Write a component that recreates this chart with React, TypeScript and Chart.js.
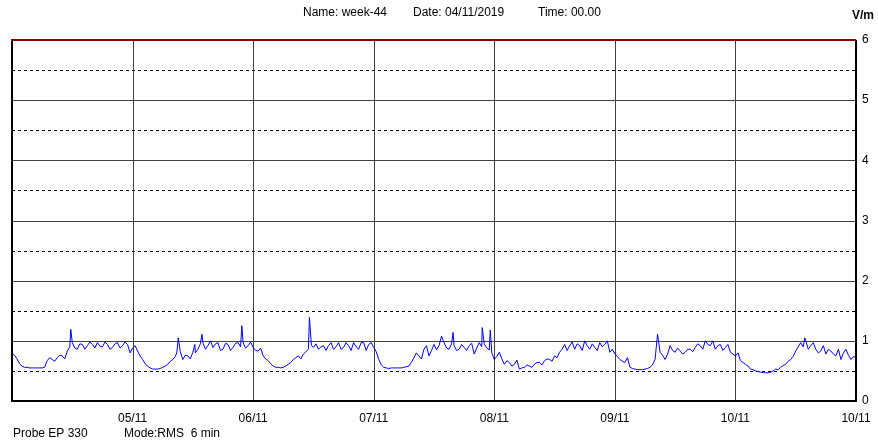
import React, { useEffect, useRef } from 'react';
import { Chart, registerables } from 'chart.js';

Chart.register(...registerables);

// Time since 04/11/2019 00:00 in hours
const hours = [
  0, 1, 2, 3, 4, 5, 6, 7, 8, 9, 10, 11, 11.7, 12, 13, 14, 15, 16, 17, 18, 19, 20, 21, 22, 23,
  24, 25, 26, 27, 28, 29, 30, 31, 32, 32.8, 33.1, 34, 35, 36, 36.4, 37, 37.8, 38, 39, 40, 41, 42, 43, 44, 45, 45.75, 46, 47,
  48, 49, 50, 51, 52, 53, 54, 55, 56, 57, 58, 59, 59.2, 59.6, 60, 61, 62, 63, 64, 65, 66, 67, 68, 69, 70, 71,
  72, 73, 74, 75, 76, 77, 78, 79, 80, 81, 82, 83, 84, 85, 85.5, 86, 87, 87.8, 88, 89, 90, 91, 92, 93, 93.6, 94, 95, 95.2, 95.5,
  96, 97, 98, 99, 100, 101, 102, 103, 104, 105, 106, 107, 108, 109, 110, 111, 112, 113, 114, 115, 116, 117, 118, 119,
  120, 121, 122, 123, 124, 125, 126, 127, 128, 128.5, 129, 130, 131, 132, 133, 134, 135, 136, 137, 138, 139, 140, 141, 142, 143,
  144, 145, 146, 147, 148, 149, 150, 151, 152, 153, 154, 155, 156, 157, 157.8, 158, 159, 160, 161, 162, 163, 164, 165, 166, 167, 168,
];

// Field strength (V/m), RMS, at the times above
const fieldValues = [
  0.8, 0.7, 0.58, 0.56, 0.55, 0.55, 0.55, 0.67, 0.69, 0.72, 0.75, 0.83, 1.19, 0.97, 0.86, 0.94, 0.92, 0.94, 0.97, 0.9, 0.94, 0.89, 0.97, 0.92, 0.94,
  0.88, 0.83, 0.69, 0.58, 0.53, 0.53, 0.56, 0.61, 0.69, 0.8, 1.05, 0.69, 0.75, 0.81, 0.94, 0.86, 1.11, 0.97, 0.92, 0.89, 0.97, 0.86, 0.94, 0.89, 0.97, 1.25, 0.97, 0.92,
  0.89, 0.83, 0.75, 0.67, 0.58, 0.56, 0.56, 0.61, 0.69, 0.75, 0.78, 0.86, 1.39, 0.92, 0.89, 0.86, 0.92, 0.92, 0.86, 0.97, 0.89, 0.92, 0.97, 0.86, 0.97, 0.94,
  0.89, 0.69, 0.56, 0.54, 0.55, 0.55, 0.56, 0.58, 0.72, 0.75, 0.86, 0.75, 0.94, 0.92, 1.08, 0.97, 0.86, 1.14, 0.92, 0.86, 0.89, 0.92, 0.78, 0.97, 1.22, 0.95, 0.85, 1.18, 0.8,
  0.69, 0.81, 0.61, 0.64, 0.61, 0.53, 0.56, 0.58, 0.61, 0.64, 0.67, 0.69, 0.75, 0.81, 0.94, 0.92, 0.86, 0.92, 1.0, 0.86, 0.89, 0.97, 0.94, 0.81,
  0.78, 0.69, 0.64, 0.56, 0.53, 0.52, 0.53, 0.56, 0.69, 1.11, 0.81, 0.69, 0.92, 0.81, 0.83, 0.81, 0.86, 0.89, 0.92, 1.0, 0.92, 0.86, 0.94, 0.89, 0.81,
  0.75, 0.67, 0.61, 0.53, 0.5, 0.48, 0.47, 0.48, 0.53, 0.56, 0.61, 0.69, 0.83, 0.97, 1.05, 1.0, 0.92, 0.86, 0.83, 0.78, 0.83, 0.75, 0.69, 0.86, 0.69, 0.72,
];

// Readings at h + 0.5 for h = 0..167 (null where a reading above already covers it)
const halfHourValues = [
  0.76, 0.62, 0.56, 0.55, 0.55, 0.55, 0.56, 0.72, 0.66, 0.76, 0.7, 0.9, 0.88, 0.95, 0.86, 0.98, 0.88, 0.91, 0.98, 0.86, 0.95, 0.88, 0.98, 0.8,
  0.92, 0.75, 0.62, 0.55, 0.53, 0.54, 0.58, 0.66, 0.74, 0.82, 0.76, 0.7, 0.8, 0.95, 0.86, 1.0, 0.95, 0.84, 0.96, 0.84, 0.96, 0.9, 0.88, 0.98,
  0.84, 0.88, 0.7, 0.62, 0.56, 0.55, 0.58, 0.64, 0.72, 0.7, 0.82, null, 0.95, 0.9, 0.84, 0.97, 0.9, 0.86, 0.97, 0.84, 0.9, 0.97, 0.84, 0.97,
  0.82, 0.6, 0.55, 0.55, 0.55, 0.55, 0.57, 0.64, 0.8, 0.7, 0.92, 0.84, 0.85, null, 0.88, 0.95, 0.84, 0.94, 0.84, 0.96, 0.88, 0.9, 0.88, null,
  0.74, 0.7, 0.67, 0.58, 0.68, 0.55, 0.6, 0.56, 0.64, 0.6, 0.7, 0.66, 0.72, 0.86, 0.84, 0.98, 0.95, 0.84, 0.92, 0.95, 0.84, 0.9, 1.0, 0.86,
  0.74, 0.66, 0.72, 0.54, 0.52, 0.52, 0.54, 0.6, null, 0.76, 0.78, 0.84, 0.88, 0.78, 0.86, 0.82, 0.95, 0.86, 0.94, 1.0, 0.92, 0.84, 0.94, 0.78,
  0.8, 0.64, 0.58, 0.52, 0.49, 0.47, 0.47, 0.5, 0.52, 0.59, 0.66, 0.74, 0.9, 0.9, 0.86, 0.97, 0.8, 0.92, 0.86, 0.78, 0.86, 0.8, 0.76, 0.74,
];

const dayTicks = [0, 24, 48, 72, 96, 120, 144, 168];
const dayLabels = ['', '05/11', '06/11', '07/11', '08/11', '09/11', '10/11', '10/11'];
const yTicks = [0, 1, 2, 3, 4, 5, 6];
const halfLines = [0.5, 1.5, 2.5, 3.5, 4.5, 5.5];
const headerTexts = ['Name: week-44', 'Date: 04/11/2019', 'Time: 00.00'];
const footerTexts = ['Probe EP 330', 'Mode:RMS  6 min'];
const unitText = 'V/m';

const FONT = '"Liberation Sans", Arial, sans-serif';

export default function App() {
  const ref = useRef<HTMLCanvasElement>(null);

  useEffect(() => {
    document.body.style.margin = '0';
    const canvas = ref.current;
    if (!canvas) return;

    const points: { x: number; y: number }[] = hours.map((h, i) => ({ x: h, y: fieldValues[i] }));
    halfHourValues.forEach((v, i) => {
      if (v !== null) points.push({ x: i + 0.5, y: v as number });
    });
    points.sort((a, b) => a.x - b.x);

    const framePlugin = {
      id: 'frame',
      beforeDatasetsDraw(chart: any) {
        const { ctx, chartArea: a, scales } = chart;
        const x = scales.x;
        const y = scales.y;
        ctx.save();
        ctx.lineWidth = 1;
        ctx.strokeStyle = '#000000';
        ctx.setLineDash([3, 3]);
        halfLines.forEach((v) => {
          const py = Math.round(y.getPixelForValue(v)) + 0.5;
          ctx.beginPath();
          ctx.moveTo(a.left, py);
          ctx.lineTo(a.right, py);
          ctx.stroke();
        });
        ctx.setLineDash([]);
        ctx.strokeStyle = '#404040';
        yTicks.slice(1, -1).forEach((v) => {
          const py = Math.round(y.getPixelForValue(v)) + 0.5;
          ctx.beginPath();
          ctx.moveTo(a.left, py);
          ctx.lineTo(a.right, py);
          ctx.stroke();
        });
        dayTicks.slice(1, -1).forEach((h) => {
          const px = Math.round(x.getPixelForValue(h)) + 0.5;
          ctx.beginPath();
          ctx.moveTo(px, a.top);
          ctx.lineTo(px, a.bottom);
          ctx.stroke();
        });
        ctx.restore();
      },
      afterDatasetsDraw(chart: any) {
        const { ctx, chartArea: a } = chart;
        ctx.save();
        ctx.lineWidth = 2;
        ctx.strokeStyle = '#000000';
        ctx.beginPath();
        ctx.moveTo(a.left, a.top);
        ctx.lineTo(a.left, a.bottom);
        ctx.lineTo(a.right, a.bottom);
        ctx.lineTo(a.right, a.top);
        ctx.stroke();
        ctx.strokeStyle = '#8b0000';
        ctx.beginPath();
        ctx.moveTo(a.left - 1, a.top);
        ctx.lineTo(a.right, a.top);
        ctx.stroke();
        ctx.restore();
      },
      afterDraw(chart: any) {
        const { ctx } = chart;
        ctx.save();
        ctx.fillStyle = '#000000';
        ctx.textBaseline = 'middle';
        ctx.textAlign = 'left';
        ctx.font = '12px ' + FONT;
        const hx = [303, 413, 538];
        headerTexts.forEach((t, i) => ctx.fillText(t, hx[i], 13));
        const fx = [13, 124];
        footerTexts.forEach((t, i) => ctx.fillText(t, fx[i], 434));
        ctx.font = 'bold 12px ' + FONT;
        ctx.fillText(unitText, 852, 16);
        ctx.restore();
      },
    };

    const chart = new Chart(canvas, {
      type: 'line',
      data: {
        datasets: [
          {
            data: points,
            borderColor: '#0000ff',
            borderWidth: 1,
            pointRadius: 0,
            tension: 0,
            fill: false,
          },
        ],
      },
      options: {
        responsive: false,
        animation: false,
        layout: { padding: { left: 12, top: 40, right: 0, bottom: 0 } },
        plugins: { legend: { display: false }, tooltip: { enabled: false } },
        scales: {
          x: {
            type: 'linear',
            min: 0,
            max: 168,
            grid: { display: false, drawTicks: false },
            border: { display: false },
            afterBuildTicks: (scale: any) => {
              scale.ticks = dayTicks.map((v) => ({ value: v }));
            },
            afterFit: (scale: any) => {
              scale.height = 39;
              scale.paddingLeft = 0;
              scale.paddingRight = 0;
            },
            ticks: {
              autoSkip: false,
              maxRotation: 0,
              padding: 10,
              color: '#000000',
              font: { family: FONT, size: 12 },
              callback: (v: any) => {
                const idx = dayTicks.indexOf(Number(v));
                return idx >= 0 ? dayLabels[idx] : '';
              },
            },
          },
          y: {
            type: 'linear',
            position: 'right',
            min: 0,
            max: 6,
            grid: { display: false, drawTicks: false },
            border: { display: false },
            afterBuildTicks: (scale: any) => {
              scale.ticks = yTicks.map((v) => ({ value: v }));
            },
            afterFit: (scale: any) => {
              scale.width = 22;
              scale.paddingTop = 0;
              scale.paddingBottom = 0;
            },
            ticks: {
              padding: 6,
              color: '#000000',
              font: { family: FONT, size: 12 },
              callback: (v: any) => String(v),
            },
          },
        },
      },
      plugins: [framePlugin],
    });

    return () => chart.destroy();
  }, []);

  return <canvas ref={ref} width={878} height={440} style={{ display: 'block' }} />;
}
